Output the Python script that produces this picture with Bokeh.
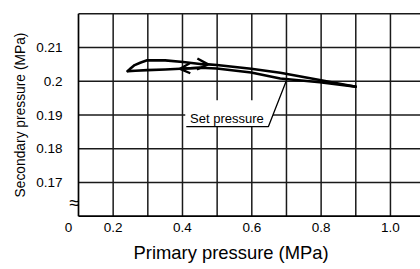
from bokeh.plotting import figure
from bokeh.models import Range1d, FixedTicker, PrintfTickFormatter, Label, Arrow, OpenHead, Title
from bokeh.embed import file_html
from bokeh.resources import INLINE

# ---- data ----
# increasing primary pressure (upper branch)
up_x = [0.242, 0.250, 0.262, 0.278, 0.298, 0.350, 0.402, 0.451, 0.474, 0.499, 0.598, 0.682, 0.796, 0.900]
up_y = [0.2030, 0.2038, 0.2048, 0.2055, 0.2062, 0.2062, 0.2057, 0.2051, 0.2050, 0.2048, 0.2037, 0.2025, 0.2004, 0.1984]
# decreasing primary pressure (lower branch)
dn_x = [0.900, 0.796, 0.682, 0.598, 0.499, 0.451, 0.393, 0.350, 0.298, 0.264, 0.242]
dn_y = [0.1984, 0.1997, 0.2008, 0.2026, 0.2038, 0.2040, 0.2037, 0.2035, 0.2033, 0.2031, 0.2030]

x_tick_vals = [0.2, 0.4, 0.6, 0.8, 1.0]
x_grid_vals = [0.2, 0.3, 0.4, 0.5, 0.6, 0.7, 0.8, 0.9, 1.0]
y_tick_vals = [0.17, 0.18, 0.19, 0.20, 0.21]
y_grid_vals = [0.17, 0.18, 0.19, 0.20, 0.21, 0.22]
x_min, y_min = 0.1, 0.16          # broken-axis origin
origin_tick = 0.0712              # where the "0" of the broken axis sits

FONT = "Liberation Sans"

p = figure(width=420, height=269, output_backend="svg", toolbar_location=None,
           x_range=Range1d(0.0625, 1.0867), y_range=Range1d(0.15932, 0.22068),
           min_border_left=65, min_border_top=11, min_border_right=0, min_border_bottom=51)
p.outline_line_color = None
p.xgrid.visible = False
p.ygrid.visible = False

# grid lines and frame lines
GC = "#1a1a1a"
p.segment(x0=x_grid_vals, y0=[y_min] * len(x_grid_vals), x1=x_grid_vals, y1=[max(y_grid_vals)] * len(x_grid_vals),
          line_color=GC, line_width=1.5)
p.segment(x0=[x_min] * len(y_grid_vals), y0=y_grid_vals, x1=[1.2] * len(y_grid_vals), y1=y_grid_vals,
          line_color=GC, line_width=1.5)
p.segment(x0=[x_min, x_min], y0=[y_min, y_min], x1=[x_min, 1.2], y1=[max(y_grid_vals), y_min],
          line_color="black", line_width=1.7)

# axes (tick labels only; lines drawn above)
p.xaxis.ticker = FixedTicker(ticks=[origin_tick] + x_tick_vals)
p.yaxis.ticker = FixedTicker(ticks=y_tick_vals)
p.xaxis.formatter = PrintfTickFormatter(format="%.1f")
p.xaxis.major_label_overrides = {origin_tick: "0"}
p.yaxis.formatter = PrintfTickFormatter(format="%g")
for ax in (p.xaxis, p.yaxis):
    ax.axis_line_color = None
    ax.major_tick_line_color = None
    ax.minor_tick_line_color = None
    ax.major_tick_out = 0
    ax.major_tick_in = 0
    ax.major_label_text_font = FONT
    ax.major_label_text_font_size = "13.5px"
    ax.major_label_text_color = "black"
p.xaxis.major_label_standoff = 4
p.yaxis.major_label_standoff = 3
p.yaxis.axis_label = "Secondary pressure (MPa)"
p.yaxis.axis_label_text_font = FONT
p.yaxis.axis_label_text_font_size = "13.8px"
p.yaxis.axis_label_text_font_style = "normal"
p.yaxis.axis_label_text_color = "black"
p.yaxis.axis_label_standoff = 5

p.add_layout(Title(text="Primary pressure (MPa)", align="left", offset=68, vertical_align="bottom",
                   standoff=10, text_font=FONT, text_font_size="18.4px", text_font_style="normal",
                   text_color="black"), "below")

# axis break mark
p.add_layout(Label(x=0.0885, y=0.16406, text="≈", text_font=FONT, text_font_size="18px",
                   text_align="center", text_baseline="middle", text_color="black"))

# callout box for "Set pressure"
p.patch(x=[0.408, 0.677, 0.648, 0.408], y=[0.19437, 0.19437, 0.18657, 0.18657],
        fill_color="white", line_color=None)
p.line(x=[0.411, 0.648, 0.6999], y=[0.18657, 0.18657, 0.2002], line_color="black", line_width=1.3)
p.add_layout(Label(x=0.422, y=0.18889, text="Set pressure", text_font=FONT,
                   text_font_size="13px", text_align="left", text_baseline="alphabetic",
                   text_color="black"))

# hysteresis curve
p.line(up_x, up_y, line_color="black", line_width=2.6, line_join="round", line_cap="round")
p.line(dn_x, dn_y, line_color="black", line_width=2.6, line_join="round", line_cap="round")

# direction arrows derived from the data
ku = up_x.index(0.474)
p.add_layout(Arrow(end=OpenHead(size=11, line_width=2.4, line_color="black"),
                   x_start=up_x[ku - 1], y_start=up_y[ku - 1], x_end=up_x[ku], y_end=up_y[ku],
                   line_width=2.4, line_color="black"))
kd = dn_x.index(0.393)
p.add_layout(Arrow(end=OpenHead(size=10, line_width=2.4, line_color="black"),
                   x_start=dn_x[kd - 1], y_start=dn_y[kd - 1], x_end=dn_x[kd], y_end=dn_y[kd],
                   line_width=2.4, line_color="black"))

open("out.html", "w").write(file_html(p, INLINE))
